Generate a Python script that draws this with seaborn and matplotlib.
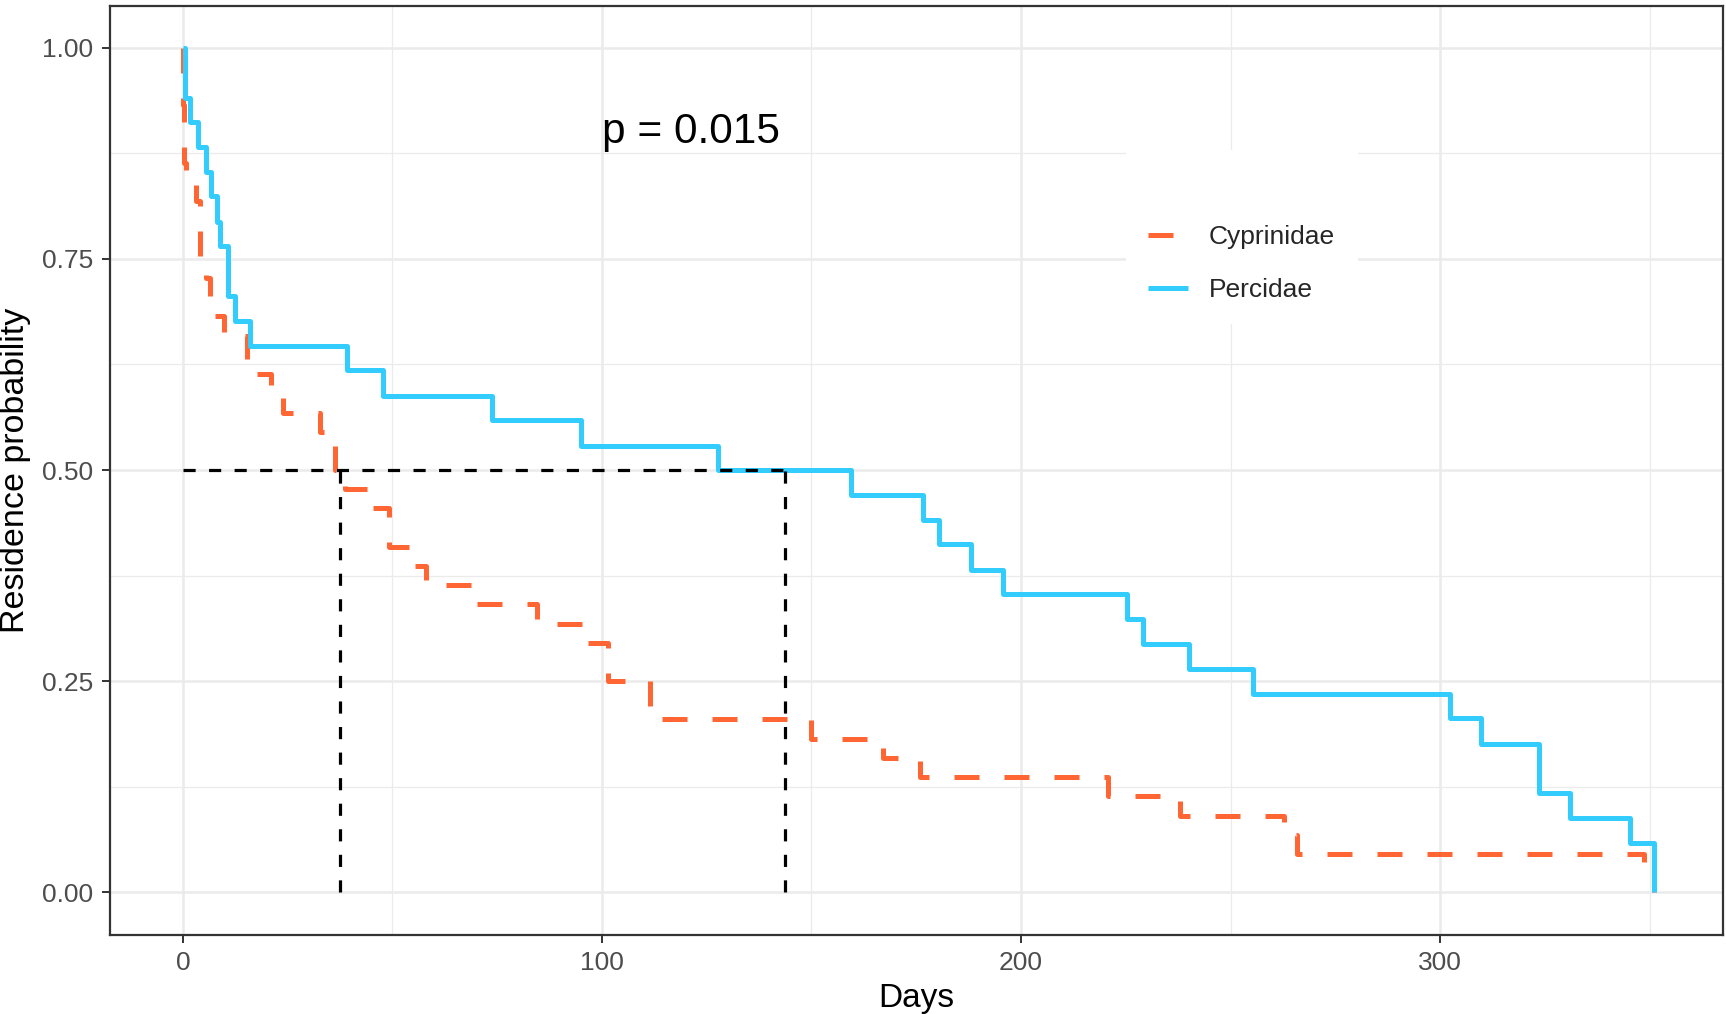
import numpy as np
import pandas as pd
import matplotlib
matplotlib.use("Agg")
import matplotlib.pyplot as plt
import seaborn as sns

# Kaplan-Meier step estimates of residence by family (day of each step, survival after it)
families = ["Cyprinidae", "Percidae"]

cypr_days = [0, 0.1, 0.3, 0.8, 3.1, 4.2, 5.5, 6.5, 7.3, 9.8, 15.4, 21.0, 24.0, 32.8,
             36.3, 38.8, 44.2, 49.1, 54.0, 58.0, 68.9, 84.4, 95.5, 101.5, 111.4,
             149.9, 167.0, 175.8, 220.7, 238.0, 262.8, 265.9, 348.6, 351.0]
cypr_surv = [1.000, 0.932, 0.864, 0.841, 0.818, 0.750, 0.727, 0.705, 0.682, 0.659,
             0.614, 0.591, 0.568, 0.545, 0.500, 0.477, 0.455, 0.409, 0.386, 0.364,
             0.341, 0.318, 0.295, 0.250, 0.205, 0.182, 0.159, 0.136, 0.114, 0.091,
             0.068, 0.045, 0.023, 0.000]

perc_days = [0, 0.4, 1.7, 3.7, 5.5, 6.7, 8.1, 8.9, 10.7, 12.4, 16.0, 39.1, 47.8,
             73.7, 94.9, 127.7, 159.5, 176.6, 180.5, 188.1, 195.6, 225.4, 229.2,
             240.2, 255.4, 302.3, 309.7, 323.6, 330.9, 345.3, 351.0]
perc_surv = [1.000, 0.941, 0.912, 0.882, 0.853, 0.824, 0.794, 0.765, 0.706, 0.676,
             0.647, 0.618, 0.588, 0.559, 0.529, 0.500, 0.471, 0.441, 0.412, 0.382,
             0.353, 0.324, 0.294, 0.265, 0.235, 0.206, 0.176, 0.118, 0.088, 0.059,
             0.000]

p_label = "p = 0.015"
p_pos = (100, 0.9)
x_range = (0, 350)
x_ticks = [0, 100, 200, 300]
x_minor = [50, 150, 250, 350]
y_ticks = [0.00, 0.25, 0.50, 0.75, 1.00]
y_minor = [0.125, 0.375, 0.625, 0.875]

palette = {"Cyprinidae": "#FF6633", "Percidae": "#33CCFF"}

sns.set_theme(style="white")
plt.rcParams["font.family"] = ["Liberation Sans", "DejaVu Sans"]

df = pd.concat([
    pd.DataFrame({"Days": cypr_days, "Residence": cypr_surv, "Family": "Cyprinidae"}),
    pd.DataFrame({"Days": perc_days, "Residence": perc_surv, "Family": "Percidae"}),
], ignore_index=True)


def median_day(days, surv):
    days = np.asarray(days, dtype=float)
    surv = np.asarray(surv, dtype=float)
    flat = np.isclose(surv, 0.5, atol=1e-3)
    if flat.any():
        i = int(np.argmax(flat))
        return (days[i] + days[i + 1]) / 2.0
    return days[int(np.argmax(surv <= 0.5))]


W, H = 1726, 1014
fig = plt.figure(figsize=(W / 100, H / 100), dpi=100)
ax = fig.add_axes([109.5 / W, 1 - 934.6 / H, (1723 - 109.5) / W, (934.6 - 5.5) / H])

sns.lineplot(data=df, x="Days", y="Residence", hue="Family", style="Family",
             hue_order=families, style_order=families, palette=palette,
             dashes={"Cyprinidae": (5.0, 5.0), "Percidae": ""},
             drawstyle="steps-post", estimator=None, sort=False,
             legend=False, ax=ax, zorder=3)
for ln in ax.lines:
    ln.set_linewidth(3.6)
    ln.set_dash_capstyle("butt")
    ln.set_solid_capstyle("butt")
    ln.set_solid_joinstyle("round")

# median residence lines
medians = [median_day(cypr_days, cypr_surv), median_day(perc_days, perc_surv)]
ax.plot([0, max(medians)], [0.5, 0.5], color="black", lw=2.3,
        dashes=(3.8, 4.2), zorder=4)
for m in medians:
    ax.plot([m, m], [0, 0.5], color="black", lw=2.3, dashes=(3.8, 4.2), zorder=4)

ax.text(p_pos[0], p_pos[1], p_label, fontsize=30.5, ha="left", va="center",
        color="black", zorder=5)

span = x_range[1] - x_range[0]
ax.set_xlim(x_range[0] - 0.05 * span, x_range[1] + 0.05 * span)
ax.set_ylim(-0.05, 1.05)
ax.set_xticks(x_ticks)
ax.set_xticklabels([str(v) for v in x_ticks])
ax.set_xticks(x_minor, minor=True)
ax.set_yticks(y_ticks)
ax.set_yticklabels([f"{v:.2f}" for v in y_ticks])
ax.set_yticks(y_minor, minor=True)

ax.grid(which="major", color="#EBEBEB", lw=1.8, zorder=0)
ax.grid(which="minor", color="#EBEBEB", lw=0.9, zorder=0)
ax.set_axisbelow(True)

ax.tick_params(axis="both", which="major", length=5.8, width=1.4,
               color="#333333", labelsize=19, labelcolor="#4D4D4D", pad=6,
               bottom=True, left=True)
ax.tick_params(axis="both", which="minor", length=0)
for sp in ax.spines.values():
    sp.set_visible(True)
    sp.set_color("#333333")
    sp.set_linewidth(1.6)

ax.set_xlabel("Days", fontsize=24, color="black", labelpad=6)
ax.set_ylabel("Residence probability", fontsize=24.5, color="black", labelpad=8)

handles = ax.lines[:2]
leg = ax.legend(handles, families, loc="upper left",
                bbox_to_anchor=(0.6218, 0.8592), bbox_transform=ax.transAxes,
                frameon=True, facecolor="white", edgecolor="none", framealpha=1,
                fancybox=False, fontsize=19, handlelength=1.5, handletextpad=0.8,
                labelspacing=1.1, borderpad=0.85, title=" ", title_fontsize=19)
leg.set_zorder(6)

fig.savefig("out.png", dpi=100)
